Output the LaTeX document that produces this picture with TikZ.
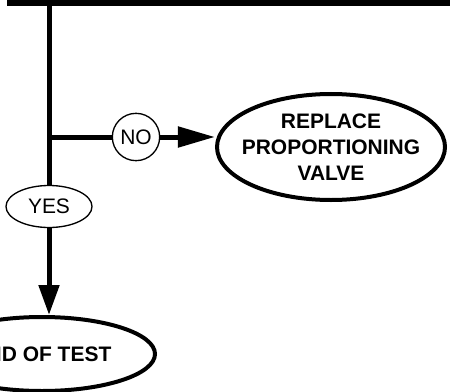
\documentclass[tikz,border=0pt]{standalone}
\usepackage{fontspec}
\setmainfont{Liberation Sans}
\usetikzlibrary{arrows.meta, positioning, shapes.geometric}

\begin{document}
\begin{tikzpicture}[
    x=0.03cm, y=-0.03cm,
    bigoval/.style={draw, ellipse, line width=0.12cm, inner sep=0pt, align=center, font=\fontsize{17.9}{22.4}\selectfont\bfseries},
    answer/.style={draw, fill=white, line width=0.04cm, inner sep=0pt, font=\fontsize{17.9}{22.4}\selectfont},
    flow/.style={line width=0.15cm},
    arrow/.style={flow, -{Triangle[length=1.11cm, width=0.6cm]}},
    arrowdown/.style={flow, -{Triangle[length=0.9cm, width=0.6cm]}},
]
    \path[use as bounding box, clip] (0,0) rectangle (450,391);

    % Box above (cut off)
    \fill (7,-10) rectangle (460,6);

    % Outcomes
    \node[bigoval, inner xsep=-0.3cm, minimum width=6.84cm, minimum height=3.18cm] (repl) at (331,147) {REPLACE\\PROPORTIONING\\VALVE};
    \node[bigoval, minimum width=6.78cm, minimum height=2.22cm] (endt) at (42,354) {END OF TEST};

    % Answers
    \node[answer, circle, minimum size=1.42cm] (no) at (136,137) {NO};
    \node[answer, ellipse, minimum width=2.58cm, minimum height=1.26cm] (yes) at (49,206.5) {YES};

    \coordinate (top) at (49,0);
    \coordinate (fork) at (49,137);

    % Connections
    \draw[flow] (top) -- (yes);
    \draw[arrowdown] (yes) -- (yes |- endt.north);
    \draw[flow] (fork) -- (no);
    \draw[arrow] (no) -- (no -| repl.west);

\end{tikzpicture}
\end{document}
